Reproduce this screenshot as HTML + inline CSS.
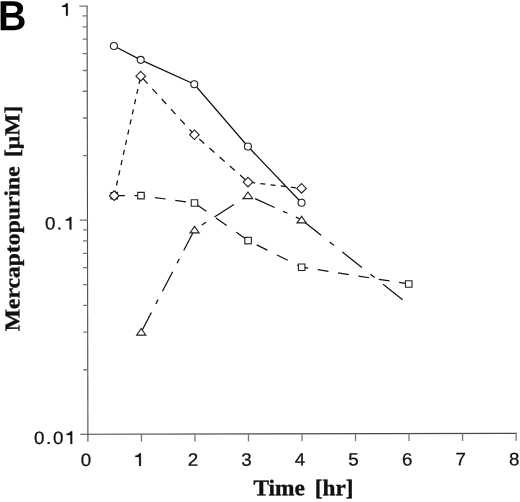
<!DOCTYPE html>
<html><head><meta charset="utf-8"><title>B</title>
<style>html,body{margin:0;padding:0;background:#fff;overflow:hidden}body{width:520px;height:502px;position:relative;font-family:"Liberation Sans",sans-serif}</style>
</head><body>
<svg width="520" height="502" viewBox="0 0 520 502" style="position:absolute;left:0;top:0;will-change:transform">
<rect width="520" height="502" fill="#fff"/>
<g transform="rotate(-0.11 87.9 434.2)">
<g stroke="#4a4a4a" stroke-width="1.1" fill="none">
<path d="M87.90 5.55V441.69"/>
<path d="M80.30 434.19H516.60"/>
</g>
<g stroke="#777" stroke-width="1.3" fill="none">
<path d="M83.40 155.68H87.90M83.40 117.98H87.90M83.40 91.24H87.90M83.40 70.49H87.90M83.40 53.54H87.90M83.40 39.21H87.90M83.40 26.80H87.90M83.40 15.85H87.90M83.40 369.75H87.90M83.40 332.05H87.90M83.40 305.31H87.90M83.40 284.56H87.90M83.40 267.61H87.90M83.40 253.28H87.90M83.40 240.87H87.90M83.40 229.92H87.90"/>
<path d="M80.20 6.05H87.90M80.20 220.12H87.90M141.43 434.19V441.69M194.95 434.19V441.69M248.47 434.19V441.69M302.00 434.19V441.69M355.52 434.19V441.69M409.05 434.19V441.69M462.58 434.19V441.69M516.10 434.19V441.69"/>
</g>
<g stroke="#111" stroke-width="1.25" fill="none" stroke-linecap="butt">
<path d="M114.66 46.10L141.43 59.96L194.95 84.51L248.47 146.82L302.00 203.17"/>
<path d="M114.66 195.73L115.78 190.73 M116.94 185.56L118.06 180.56 M119.22 175.39L120.34 170.39 M121.50 165.22L122.62 160.22 M123.77 155.05L124.89 150.05 M126.05 144.88L127.17 139.88 M128.33 134.71L129.45 129.71 M130.61 124.54L131.73 119.54 M132.89 114.37L134.01 109.37 M135.16 104.20L136.28 99.20 M137.44 94.03L138.56 89.03 M139.72 83.86L140.84 78.86 M143.76 78.80L148.32 83.80 M153.03 88.97L157.59 93.97 M162.31 99.14L166.87 104.14 M171.58 109.31L176.14 114.31 M180.86 119.48L185.42 124.48 M190.13 129.65L194.69 134.65 M199.84 139.27L204.84 143.71 M210.01 148.29L215.01 152.73 M220.18 157.32L225.18 161.75 M230.35 166.34L235.35 170.78 M240.52 175.36L245.52 179.80 M250.69 182.69L255.69 183.29 M260.86 183.91L265.86 184.51 M271.03 185.13L276.03 185.73 M281.20 186.35L286.20 186.94 M291.37 187.56L296.37 188.16 M301.54 188.78L302.00 188.84"/>
<path d="M114.66 195.73L125.36 195.73 M135.00 195.73L141.43 195.73 M141.43 195.73L145.70 196.32 M155.34 197.66L166.04 199.15 M175.68 200.49L186.38 201.98 M196.02 203.92L206.72 211.46 M216.36 218.25L227.06 225.79 M236.70 232.57L247.40 240.11 M257.04 245.15L267.74 250.49 M277.38 255.31L288.08 260.66 M297.72 265.47L302.00 267.61 M302.00 267.61L308.42 268.63 M318.06 270.15L328.76 271.85 M338.40 273.38L349.10 275.07 M358.74 276.60L369.44 278.29 M379.08 279.82L389.78 281.51 M399.42 283.04L409.05 284.56"/>
<path d="M141.43 332.05L151.64 312.55 M156.10 304.05L158.35 299.75 M162.74 291.37L172.96 271.87 M177.42 263.37L179.67 259.07 M184.06 250.69L194.28 231.19 M202.17 225.30L206.47 222.56 M214.85 217.20L234.35 204.75 M242.85 199.32L247.15 196.57 M255.53 198.94L275.03 207.83 M283.53 211.70L287.83 213.66 M296.21 217.48L302.00 220.12"/>
<path d="M302.00 220.12L321.50 235.62 M330.00 242.37L334.30 245.79 M342.68 252.45L362.18 267.95 M370.68 274.70L374.98 278.12 M383.36 284.78L402.86 300.28"/>
</g>
<g stroke="#222" stroke-width="1.12" fill="#fff">
<rect x="111.41" y="192.48" width="6.5" height="6.5"/>
<rect x="138.18" y="192.48" width="6.5" height="6.5"/>
<rect x="191.70" y="199.92" width="6.5" height="6.5"/>
<rect x="245.22" y="237.62" width="6.5" height="6.5"/>
<rect x="298.75" y="264.36" width="6.5" height="6.5"/>
<rect x="405.80" y="281.31" width="6.5" height="6.5"/>
<path d="M114.66 190.93L119.46 195.73L114.66 200.53L109.86 195.73Z"/>
<path d="M141.43 71.44L146.23 76.24L141.43 81.04L136.62 76.24Z"/>
<path d="M194.95 130.13L199.75 134.93L194.95 139.73L190.15 134.93Z"/>
<path d="M248.47 177.62L253.28 182.42L248.47 187.22L243.67 182.42Z"/>
<path d="M302.00 184.04L306.80 188.84L302.00 193.64L297.20 188.84Z"/>
<path d="M141.43 328.65L146.03 335.25L136.83 335.25Z"/>
<path d="M194.95 226.52L199.55 233.12L190.35 233.12Z"/>
<path d="M248.47 192.33L253.07 198.93L243.88 198.93Z"/>
<path d="M302.00 216.72L306.60 223.32L297.40 223.32Z"/>
<circle cx="114.66" cy="46.10" r="3.5"/>
<circle cx="141.43" cy="59.96" r="3.5"/>
<circle cx="194.95" cy="84.51" r="3.5"/>
<circle cx="248.47" cy="146.82" r="3.5"/>
<circle cx="302.00" cy="203.17" r="3.5"/>
</g>
<g font-family="Liberation Sans, sans-serif" font-size="17.9" fill="#111" stroke="#111" stroke-width="0.25">
<text transform="translate(85.90 466.0) scale(1.05 1)" text-anchor="middle">0</text>
<path transform="translate(135.24 465.99)" d="M5.6 0H3.8V-8.9H0V-10.15Q3.1 -10.3 4.25 -12.6H5.6Z" fill="#111"/>
<text transform="translate(192.95 466.0) scale(1.05 1)" text-anchor="middle">2</text>
<text transform="translate(246.47 466.0) scale(1.05 1)" text-anchor="middle">3</text>
<text transform="translate(300.00 466.0) scale(1.05 1)" text-anchor="middle">4</text>
<text transform="translate(353.52 466.0) scale(1.05 1)" text-anchor="middle">5</text>
<text transform="translate(407.05 466.0) scale(1.05 1)" text-anchor="middle">6</text>
<text transform="translate(460.58 466.0) scale(1.05 1)" text-anchor="middle">7</text>
<text transform="translate(514.10 466.0) scale(1.05 1)" text-anchor="middle">8</text>
<path transform="translate(63.00 15.75)" d="M5.6 0H3.8V-8.9H0V-10.15Q3.1 -10.3 4.25 -12.6H5.6Z" fill="#111"/>
<text transform="translate(45.34 229.42) scale(1.05 1)">0</text>
<text transform="translate(57.17 229.44) scale(1.05 1)">.</text>
<path transform="translate(66.19 229.46)" d="M5.6 0H3.8V-8.9H0V-10.15Q3.1 -10.3 4.25 -12.6H5.6Z" fill="#111"/>
<text transform="translate(34.05 443.90) scale(1.05 1)">0</text>
<text transform="translate(45.88 443.90) scale(1.05 1)">.</text>
<text transform="translate(53.05 443.90) scale(1.05 1)">0</text>
<path transform="translate(66.60 443.90)" d="M5.6 0H3.8V-8.9H0V-10.15Q3.1 -10.3 4.25 -12.6H5.6Z" fill="#111"/>
</g>
<text transform="translate(-1.2 30.2) scale(0.94 1)" font-family="Liberation Sans, sans-serif" font-weight="bold" font-size="42" fill="#000">B</text>
<g font-family="Liberation Serif, serif" font-weight="bold" font-size="22.4" fill="#111" stroke="#111" stroke-width="0.35">
<text x="253.3" y="495.7" textLength="51.6" lengthAdjust="spacingAndGlyphs">Time</text>
<text x="314.7" y="495.8" textLength="38.8" lengthAdjust="spacingAndGlyphs">[hr]</text>
<g transform="translate(19.8 331.2) rotate(-90) scale(1 0.95)">
<text x="0" y="0" textLength="165" lengthAdjust="spacingAndGlyphs">Mercaptopurine</text>
<text x="174.3" y="0" textLength="51.3" lengthAdjust="spacingAndGlyphs">[μM]</text>
</g></g>
</g>
</svg>
</body></html>
